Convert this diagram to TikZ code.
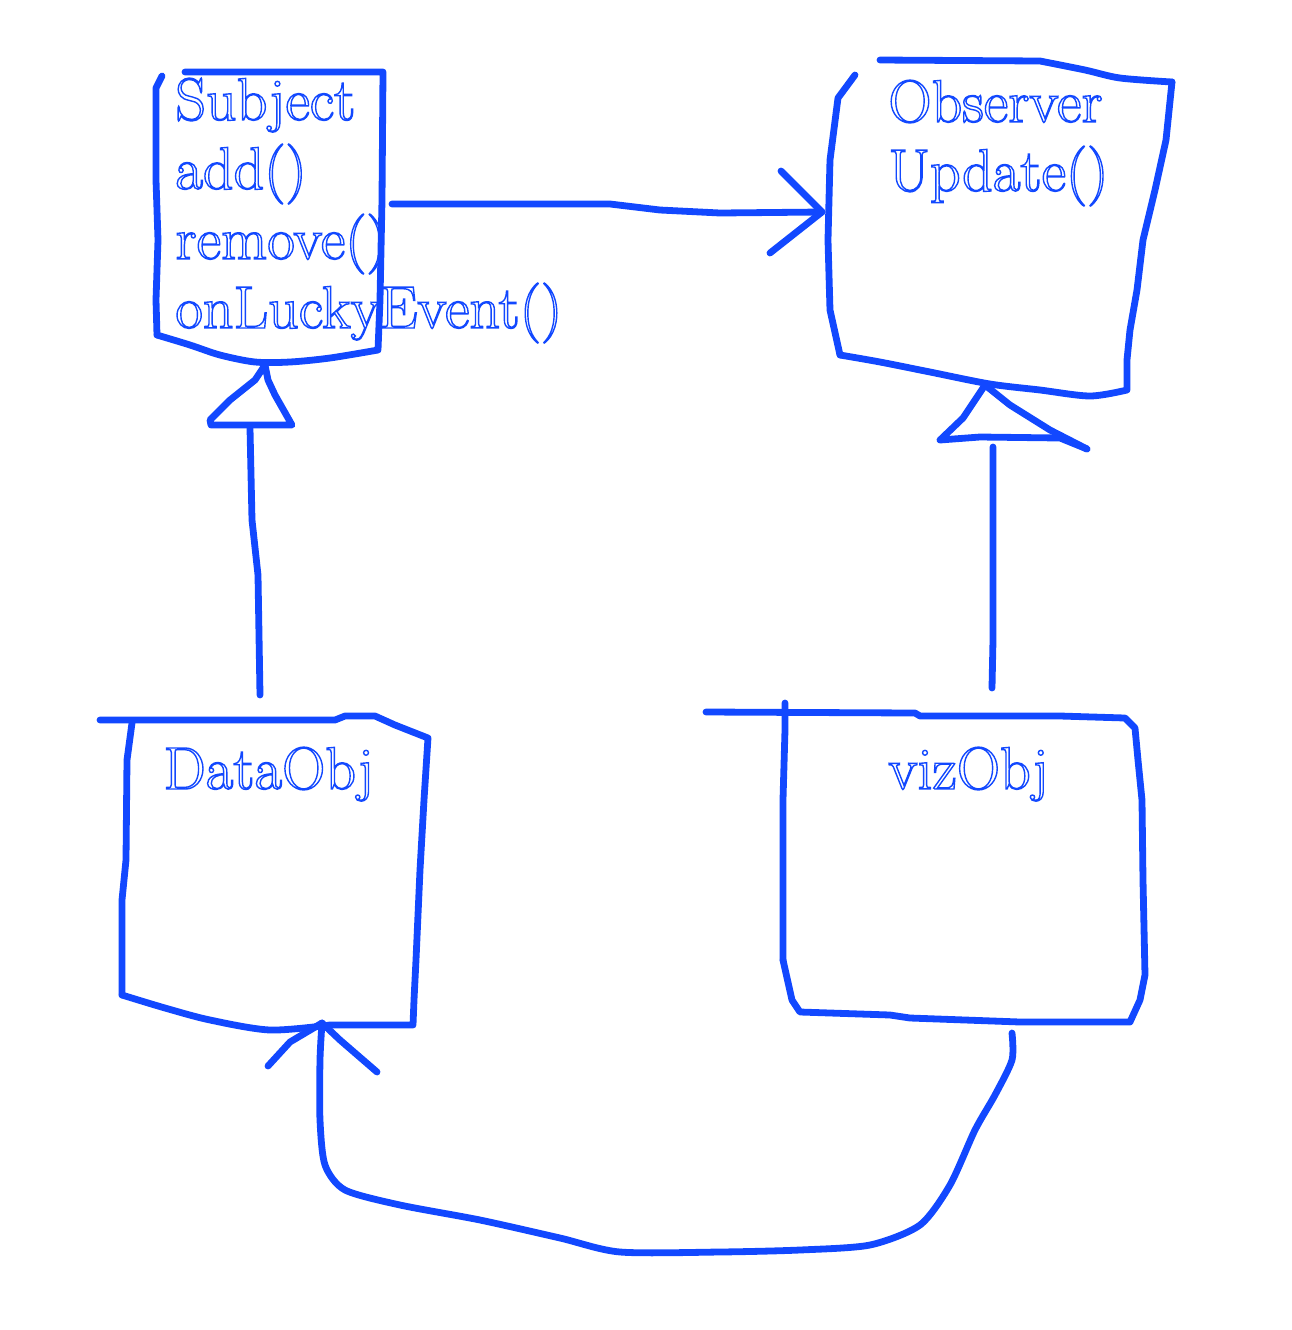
\documentclass[tikz,border=0pt]{standalone}
\definecolor{pen}{RGB}{18,72,255}
\newcommand{\outl}[1]{\special{pdf:literal direct 1 Tr 0.7 w}#1\special{pdf:literal direct 0 Tr}}
\tikzset{
  pen/.style={draw=pen, line width=3.4pt, line cap=round, line join=round},
  lbl/.style={text=pen, anchor=base west, inner sep=0pt, font=\fontsize{30}{36}\selectfont}
}
\begin{document}
\begin{tikzpicture}[x=0.5pt,y=-0.5pt]
\useasboundingbox (0,0) rectangle (1292,1330);

% ---------- Subject box ----------
\draw[pen] (185,72) -- (383,72) -- (382,200) -- (380,300) -- (378,350)
  plot[smooth,tension=0.5] coordinates {(378,350) (330,358) (290,362) (255,362) (220,355) (190,345) (157,335)};
\draw[pen] (162,76) -- (156,88) -- (156,180) -- (158,240) -- (156,300) -- (157,335);
\node[lbl] (subjT) at (175,120) {\outl{Subject}};
\node[lbl] (subjA) at (175,189) {\outl{add()}};
\node[lbl] (subjR) at (175,259) {\outl{remove()}};
\node[lbl] (subjO) at (175,328) {\outl{onLuckyEvent()}};
\coordinate (sE) at (392,204);
\coordinate (sS) at (265,365);

% ---------- Observer box ----------
\draw[pen] (880,60) -- (1040,61)
  plot[smooth,tension=0.5] coordinates {(1040,61) (1085,70) (1120,78) (1172,82)};
\draw[pen] (1172,82) -- (1166,140) -- (1155,190) -- (1143,240) -- (1137,290) -- (1130,330) -- (1127,360) -- (1127,390)
  plot[smooth,tension=0.5] coordinates {(1127,390) (1090,396) (1040,390) (990,384) (930,372) (880,362) (840,355)};
\draw[pen] (855,75) -- (838,98) -- (830,160) -- (828,240) -- (830,310) -- (840,355);
\node[lbl] (obsT) at (888,122) {\outl{Observer}};
\node[lbl] (obsU) at (888,191) {\outl{Update()}};
\coordinate (oW) at (822,212);
\coordinate (oS) at (985,385);

% ---------- association Subject -> Observer ----------
\draw[pen] (sE) -- (610,204) -- (660,210) -- (720,213) -- (oW);
\draw[pen] (781,171) -- (oW) -- (770,253);

% ---------- DataObj box ----------
\draw[pen] (100,720) -- (335,720) -- (345,716) -- (375,716) -- (395,725) -- (428,738)
  -- (424,800) -- (420,870) -- (416,960) -- (414,1000) -- (413,1025) -- (330,1025)
  plot[smooth,tension=0.5] coordinates {(330,1025) (270,1030) (210,1020) (165,1008) (122,995)};
\draw[pen] (132,723) -- (127,760) -- (126,860) -- (122,900) -- (122,995);
\node[lbl] (dataT) at (163,789) {\outl{DataObj}};
\coordinate (dN) at (260,695);
\coordinate (dS) at (322,1023);

% ---------- vizObj box ----------
\draw[pen] (706,712) -- (915,713) -- (920,716) -- (1060,716) -- (1125,718) -- (1135,728)
  -- (1138,760) -- (1142,800) -- (1143,880) -- (1145,975) -- (1140,1000) -- (1130,1022)
  -- (1020,1022) -- (910,1018) -- (890,1015) -- (800,1012) -- (792,1000) -- (783,960);
\draw[pen] (785,703) -- (785,730) -- (783,800) -- (783,960);
\node[lbl] (vizT) at (888,789) {\outl{vizObj}};
\coordinate (vN) at (992,688);
\coordinate (vS) at (1012,1033);

% ---------- generalization DataObj -> Subject ----------
\draw[pen] (dN) -- (258,575) -- (252,520) -- (250,428);
\draw[pen] (sS) -- (255,380) -- (230,400) -- (210,420) -- (211,425) -- (292,425) -- (275,395) -- (268,380) -- (sS);

% ---------- generalization vizObj -> Observer ----------
\draw[pen] (vN) -- (993,640) -- (993,447);
\draw[pen] (oS) -- (975,400) -- (963,418) -- (940,440) -- (980,437) -- (1060,438) -- (1087,449);
\draw[pen] (oS) -- (1010,405) -- (1050,430) -- (1087,449);

% ---------- association vizObj -> DataObj ----------
\draw[pen] plot[smooth,tension=0.45] coordinates {(vS) (1012,1060) (995,1095) (975,1130) (950,1185) (920,1225) (870,1245) (800,1250) (720,1252) (620,1252) (560,1238) (480,1220) (400,1205) (345,1190) (325,1165) (320,1120) (320,1060) (dS)};
\draw[pen] (268,1066) -- (290,1042) -- (dS) -- (340,1040) -- (377,1072);
\end{tikzpicture}
\end{document}
